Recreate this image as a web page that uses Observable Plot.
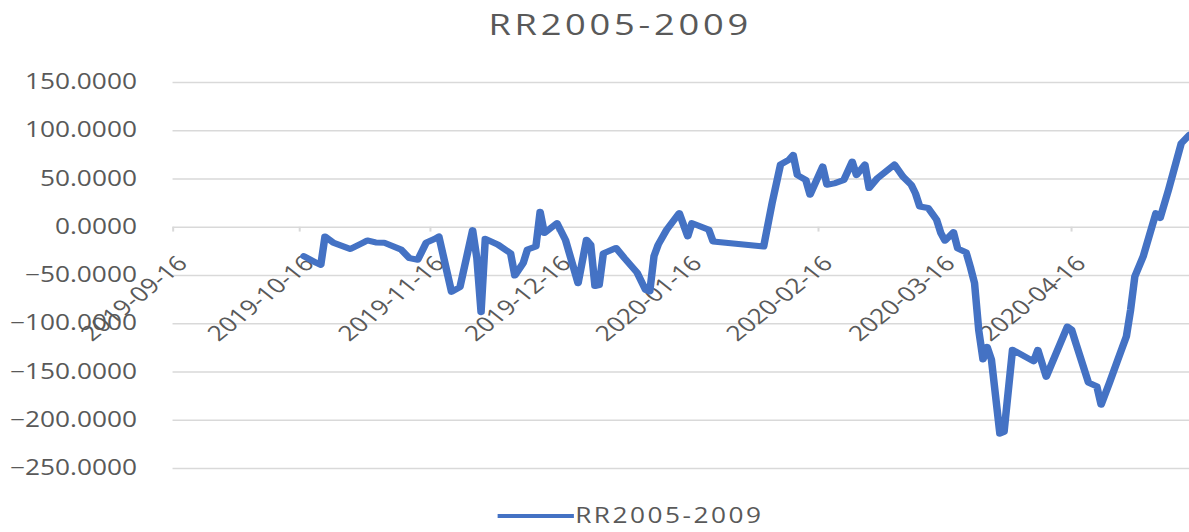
<!DOCTYPE html>
<html>
<head>
<meta charset="utf-8">
<script src="https://cdn.jsdelivr.net/npm/d3@7"></script>
<script src="https://cdn.jsdelivr.net/npm/@observablehq/plot@0.6"></script>
<style>
  html, body { margin: 0; padding: 0; background: #fff; overflow: hidden; }
  #wrap { position: relative; width: 951px; height: 532px; transform: scaleX(1.2503); transform-origin: 0 0; font-family: "Open Sans", sans-serif; color: #595959; }
  #title { position: absolute; left: 296px; width: 400px; top: 9px; text-align: center; font-size: 29px; line-height: 29px; letter-spacing: 3px; white-space: nowrap; }
  #chart { position: absolute; left: 0; top: 60px; }
  #legline { position: absolute; left: 398px; top: 513.5px; width: 61px; height: 4.5px; background: #4472C4; }
  #legtext { position: absolute; left: 460px; top: 505px; font-size: 21px; line-height: 21px; letter-spacing: 2px; white-space: nowrap; }
</style>
</head>
<body>
<div id="wrap">
  <div id="title">RR2005-2009</div>
  <div id="chart"></div>
  <div id="legline"></div>
  <div id="legtext">RR2005-2009</div>
</div>
<script>
const seriesName = "RR2005-2009";
const dates = [
  "2019-10-17","2019-10-20","2019-10-21","2019-10-22","2019-10-24","2019-10-28","2019-10-31",
  "2019-11-01","2019-11-03","2019-11-05","2019-11-09","2019-11-11","2019-11-13","2019-11-15",
  "2019-11-17","2019-11-18","2019-11-21","2019-11-23","2019-11-26","2019-11-27","2019-11-28",
  "2019-11-29","2019-12-02","2019-12-05","2019-12-06","2019-12-08","2019-12-09","2019-12-11",
  "2019-12-12","2019-12-13","2019-12-16","2019-12-18","2019-12-21","2019-12-23","2019-12-24",
  "2019-12-25","2019-12-26","2019-12-27","2019-12-30","2020-01-01","2020-01-04","2020-01-06",
  "2020-01-07","2020-01-08","2020-01-09","2020-01-11","2020-01-14","2020-01-16","2020-01-17",
  "2020-01-21","2020-01-22","2020-02-03","2020-02-05","2020-02-07","2020-02-09","2020-02-10",
  "2020-02-11","2020-02-13","2020-02-14","2020-02-17","2020-02-18","2020-02-20","2020-02-22",
  "2020-02-24","2020-02-25","2020-02-27","2020-02-28","2020-03-01","2020-03-03","2020-03-05",
  "2020-03-07","2020-03-09","2020-03-10","2020-03-11","2020-03-13","2020-03-15","2020-03-16",
  "2020-03-17","2020-03-19","2020-03-20","2020-03-22","2020-03-23","2020-03-24","2020-03-25",
  "2020-03-26","2020-03-27","2020-03-28","2020-03-30","2020-03-31","2020-04-02","2020-04-07",
  "2020-04-08","2020-04-10","2020-04-15","2020-04-16","2020-04-17","2020-04-20","2020-04-22",
  "2020-04-23","2020-04-25","2020-04-27","2020-04-29","2020-04-30","2020-05-01","2020-05-03",
  "2020-05-06","2020-05-07","2020-05-09","2020-05-12","2020-05-14"
];
const values = [
  -30,-37,-39,-9.5,-16,-22.6,-16,
  -13.7,-15.7,-16,-23,-32,-33.7,-16,
  -12,-9.5,-67,-62,-3,-32,-88,
  -12,-18,-27,-50,-37,-23,-20,
  16,-6,4.3,-13,-58,-13,-18,
  -61,-60,-27,-21.5,-32,-47,-65,
  -66.5,-30,-18,-2.6,14.7,-9.5,4.3,
  -2.6,-14.7,-20,25,65,70,75,
  54,49,33.7,63,44,45.8,49,
  68,54,65,40.6,51,58,65,
  52.6,44,35,21.5,20,7.8,-6,
  -14,-5,-22,-26,-41,-58,-107,
  -137,-124,-137,-214,-212,-127,-139,
  -127,-155,-103,-106,-120,-161,-165,
  -184,-161,-137,-113,-85.5,-51,-30,
  14.7,9.5,39,87,96
];
const xTickLabels = ["2019-09-16","2019-10-16","2019-11-16","2019-12-16","2020-01-16","2020-02-16","2020-03-16","2020-04-16"];
const yTicks = [-250,-200,-150,-100,-50,0,50,100,150];
const xDomain = ["2019-09-16","2020-05-14"];

const data = dates.map((d, i) => ({date: new Date(d), value: values[i]}));
const xTicks = xTickLabels.map(s => ({date: new Date(s), label: s, zero: 0}));

const chart = Plot.plot({
  width: 951,
  height: 430,
  marginLeft: 138,
  marginRight: 0,
  marginTop: 22,
  marginBottom: 22,
  style: {fontFamily: "'Open Sans', sans-serif", fontSize: "21px", color: "#595959", background: "transparent", overflow: "visible"},
  x: {type: "utc", domain: xDomain.map(s => new Date(s)), axis: null},
  y: {domain: [-250, 150]},
  marks: [
    Plot.gridY(yTicks, {stroke: "#d9d9d9", strokeOpacity: 1, strokeWidth: 1.6}),
    Plot.axisY(yTicks, {tickSize: 0, tickPadding: 29, tickFormat: d3.format(".4f"), label: null, fontSize: 21}),
    Plot.ruleX(xTicks, {x: "date", y1: 0, y2: -5, stroke: "#d9d9d9", strokeWidth: 1.6}),
    Plot.text(xTicks, {x: "date", y: "zero", text: "label", rotate: -45, textAnchor: "end", lineAnchor: "top", dx: 2, dy: 27, fill: "#595959", fontSize: 21}),
    Plot.line(data, {x: "date", y: "value", stroke: "#4472C4", strokeWidth: 6, strokeLinejoin: "round", strokeLinecap: "round"})
  ]
});
document.getElementById("chart").appendChild(chart);
</script>
</body>
</html>
